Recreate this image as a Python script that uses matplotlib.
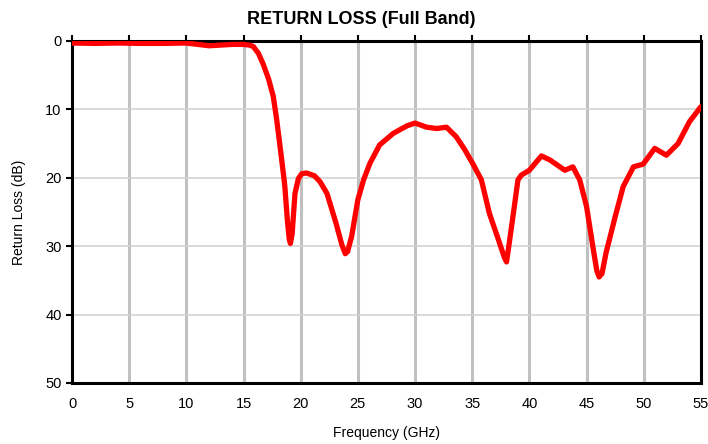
import matplotlib.pyplot as plt

plt.rcParams['font.family'] = ['Liberation Sans', 'DejaVu Sans']

# frequency (GHz) and return loss (dB)
freq = [0, 2, 4, 6, 8, 10, 11, 12, 13, 14, 15, 15.5, 15.85, 16.3, 16.7, 17.2, 17.6,
        17.9, 18.2, 18.6, 18.85, 19.0, 19.1, 19.25, 19.5, 19.8, 20.1, 20.5, 21.2,
        21.7, 22.3, 23.1, 23.6, 23.9, 24.1, 24.45, 25.0, 25.5, 26.05, 26.9, 28.1,
        29.3, 30.0, 31.0, 31.9, 32.75, 33.6, 34.35, 35.1, 35.8, 36.5, 37.3, 37.8,
        38.0, 38.2, 38.6, 39.0, 39.3, 39.7, 40.0, 41.05, 41.8, 43.1, 43.8, 44.4,
        45.0, 45.6, 45.9, 46.1, 46.35, 46.7, 47.5, 48.2, 49.1, 49.95, 50.96, 51.98,
        53.0, 54.0, 55.0]
loss = [0.3, 0.35, 0.3, 0.35, 0.35, 0.3, 0.5, 0.7, 0.6, 0.5, 0.5, 0.6, 0.8, 1.8,
        3.3, 5.6, 8.1, 11.5, 15.5, 21.0, 26.5, 29.0, 29.6, 28.2, 22.3, 20.1, 19.4,
        19.3, 19.7, 20.6, 22.3, 26.7, 29.8, 31.1, 30.8, 28.6, 23.2, 20.3, 17.9,
        15.2, 13.5, 12.4, 12.0, 12.6, 12.8, 12.6, 14.0, 15.9, 18.1, 20.3, 25.2,
        29.1, 31.6, 32.3, 30.0, 25.2, 20.3, 19.6, 19.2, 18.9, 16.8, 17.4, 18.9,
        18.4, 20.3, 24.2, 30.6, 33.6, 34.5, 34.0, 31.0, 25.7, 21.3, 18.4, 18.0,
        15.7, 16.7, 15.0, 11.8, 9.6]

xticks = list(range(0, 56, 5))
yticks = list(range(0, 51, 10))

fig = plt.figure(figsize=(7.08, 4.44), dpi=100)
ax = fig.add_axes([0.1017, 0.1374, 0.8883, 0.7703])

ax.plot(freq, loss, color='#ff0000', linewidth=3.8, solid_capstyle='round',
        solid_joinstyle='round', zorder=3)

ax.set_xlim(0, 55)
ax.set_ylim(50, 0)
ax.set_xticks(xticks)
ax.set_yticks(yticks)

# vertical grid heavier than horizontal
for x in xticks[1:-1]:
    ax.axvline(x, color='#c0c0c0', linewidth=2.2, zorder=1)
for y in yticks[1:-1]:
    ax.axhline(y, color='#d0d0d0', linewidth=1.1, zorder=1)

for s in ax.spines.values():
    s.set_linewidth(2.2)
    s.set_color('black')

# x ticks sit on top (axis at 0), labels at bottom
ax.tick_params(axis='x', which='both', top=True, bottom=False, labeltop=False,
               labelbottom=True, direction='out', length=4, width=1.5,
               labelsize=10.5, pad=6)
ax.tick_params(axis='y', direction='out', length=4, width=1.5, labelsize=10.5)

ax.set_xlabel('Frequency (GHz)', fontsize=10, labelpad=11)
ax.set_ylabel('Return Loss (dB)', fontsize=10, labelpad=14)
fig.suptitle('RETURN LOSS (Full Band)', x=0.51, y=0.975, fontsize=13,
             fontweight='bold')

fig.savefig('out.png', dpi=100)
